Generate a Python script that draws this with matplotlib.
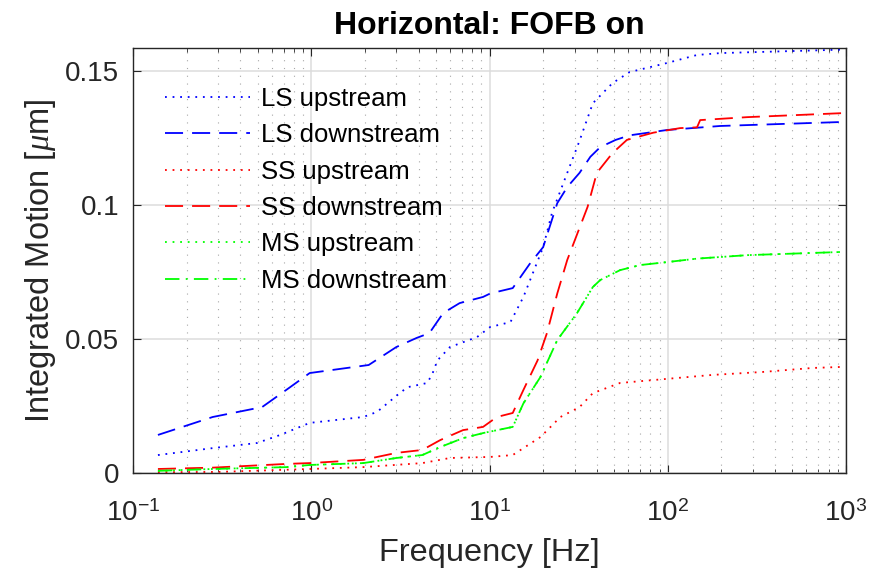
import matplotlib.pyplot as plt
from matplotlib.ticker import FixedLocator, FixedFormatter, LogLocator, NullFormatter

plt.rcParams['font.family'] = ['Liberation Sans', 'DejaVu Sans']
plt.rcParams['mathtext.fontset'] = 'custom'
plt.rcParams['mathtext.rm'] = 'Liberation Sans'
plt.rcParams['mathtext.it'] = 'Liberation Serif:italic'

# LS upstream
ls_up_f = [0.138, 0.281, 0.497, 0.67, 0.98, 1.96, 2.34, 3.03, 3.46, 4.48, 4.8, 5.1, 6.0, 8.5,
           10.1, 13.1, 15.5, 20, 22.4, 27.3, 32, 38, 49, 61, 99, 146, 197, 960]
ls_up_v = [0.0067, 0.0093, 0.0112, 0.0142, 0.0187, 0.0209, 0.0228, 0.029, 0.032, 0.0336, 0.0373,
           0.042, 0.047, 0.0507, 0.0545, 0.0563, 0.0657, 0.0843, 0.097, 0.112, 0.124, 0.138,
           0.1455, 0.1496, 0.153, 0.156, 0.1567, 0.158]

# LS downstream
ls_dn_f = [0.138, 0.28, 0.53, 0.76, 0.98, 2.1, 3.0, 3.9, 4.6, 5.5, 6.8, 9.2, 10.1, 13.5, 16.8,
           20, 24, 27.3, 32, 36.8, 41.8, 51, 61, 99, 197, 960]
ls_dn_v = [0.0142, 0.0209, 0.0246, 0.032, 0.0373, 0.0403, 0.047, 0.0504, 0.0522, 0.0597, 0.0634,
           0.0657, 0.067, 0.069, 0.078, 0.0843, 0.1007, 0.1067, 0.112, 0.118, 0.1216, 0.1243,
           0.126, 0.128, 0.1295, 0.131]

# SS upstream
ss_up_f = [0.138, 0.3, 0.98, 1.96, 4.2, 6.0, 10.1, 13.5, 19.3, 25, 32, 38, 54, 94, 178, 340, 650, 960]
ss_up_v = [0.0003, 0.0004, 0.0015, 0.0022, 0.0037, 0.0056, 0.006, 0.0067, 0.0134, 0.0209, 0.0246,
           0.0298, 0.0336, 0.035, 0.0366, 0.0377, 0.0392, 0.0396]

# SS downstream
ss_dn_f = [0.138, 0.28, 0.73, 0.98, 1.96, 3.0, 4.2, 5.3, 7.1, 9.2, 11, 13.5, 15.5, 18.6, 21, 24,
           27.3, 35.5, 40, 49, 59, 83, 117, 146, 152, 280, 960]
ss_dn_v = [0.0015, 0.002, 0.0034, 0.0037, 0.0049, 0.0075, 0.0086, 0.0123, 0.016, 0.0172, 0.0209,
           0.0224, 0.031, 0.042, 0.0522, 0.067, 0.0795, 0.0993, 0.112, 0.1194, 0.1243, 0.127,
           0.1287, 0.129, 0.1317, 0.1328, 0.1343]

# MS upstream (drawn underneath MS downstream, same trace)
ms_up_f = [0.138, 0.28, 0.73, 0.98, 1.96, 3.0, 4.2, 5.3, 7.1, 9.2, 13.5, 15.5, 19.3, 24, 31, 38,
           41.8, 54, 70, 99, 146, 280, 960]
ms_up_v = [0.0008, 0.0015, 0.0022, 0.003, 0.0037, 0.0056, 0.0067, 0.0097, 0.013, 0.0149, 0.0172,
           0.026, 0.0358, 0.0496, 0.0597, 0.0694, 0.072, 0.0757, 0.0776, 0.0787, 0.080, 0.0813,
           0.0825]

# MS downstream
ms_dn_f = ms_up_f
ms_dn_v = ms_up_v

x_ticks = [0.1, 1, 10, 100, 1000]
x_labels = ['$10^{-1}$', '$10^{0}$', '$10^{1}$', '$10^{2}$', '$10^{3}$']
y_ticks = [0, 0.05, 0.1, 0.15]
y_labels = ['0', '0.05', '0.1', '0.15']

DOT = (0, (1, 3.2))
DASH = (0, (10, 5))
DASHDOT = (0, (8, 3.5, 1, 3.5))

fig = plt.figure(figsize=(8.76, 5.74), dpi=100)
ax = fig.add_axes([133 / 876, 1 - 473 / 574, (846 - 133) / 876, (473 - 48) / 574])

ax.plot(ls_up_f, ls_up_v, color='#0000ff', linestyle=DOT, lw=1.3, label='LS upstream')
ax.plot(ls_dn_f, ls_dn_v, color='#0000ff', linestyle=DASH, lw=1.3, label='LS downstream')
ax.plot(ss_up_f, ss_up_v, color='#ff0000', linestyle=DOT, lw=1.3, label='SS upstream')
ax.plot(ss_dn_f, ss_dn_v, color='#ff0000', linestyle=DASH, lw=1.3, label='SS downstream')
ax.plot(ms_up_f, ms_up_v, color='#00ff00', linestyle=DOT, lw=1.3, label='MS upstream')
ax.plot(ms_dn_f, ms_dn_v, color='#00ff00', linestyle=DASHDOT, lw=1.3, label='MS downstream')

ax.set_xscale('log')
ax.set_xlim(0.1, 1000)
ax.set_ylim(0, 0.1586)
ax.xaxis.set_major_locator(FixedLocator(x_ticks))
ax.xaxis.set_major_formatter(FixedFormatter(x_labels))
ax.xaxis.set_minor_locator(LogLocator(base=10, subs=range(2, 10), numticks=20))
ax.xaxis.set_minor_formatter(NullFormatter())
ax.yaxis.set_major_locator(FixedLocator(y_ticks))
ax.yaxis.set_major_formatter(FixedFormatter(y_labels))

ax.grid(True, which='major', color='#dcdcdc', lw=1.1)
ax.grid(True, which='minor', axis='x', color='#a8a8a8', lw=0.8, linestyle=(0, (1, 6)))
ax.set_axisbelow(True)
ax.tick_params(which='both', direction='in', top=True, right=True, labelsize=20,
               colors='#262626')
ax.tick_params(which='major', length=6)
ax.tick_params(which='minor', length=3)
ax.tick_params(axis='x', which='major', pad=20)
ax.tick_params(axis='y', which='major', pad=10)
for s in ax.spines.values():
    s.set_color('#262626')
    s.set_linewidth(1)

ax.set_xlabel('Frequency [Hz]', fontsize=23.4, color='#262626', labelpad=8)
ax.set_ylabel('Integrated Motion [$\\mu$m]', fontsize=23.5, color='#262626', labelpad=5)
ax.set_title('Horizontal: FOFB on', fontsize=23, fontweight='bold', pad=10)

ax.legend(loc='upper left', frameon=False, fontsize=18.5, handlelength=3.3,
          handletextpad=0.45, labelspacing=0.48, borderpad=0, borderaxespad=0,
          bbox_to_anchor=(0.045, 0.908))

fig.savefig('out.png', dpi=100)
